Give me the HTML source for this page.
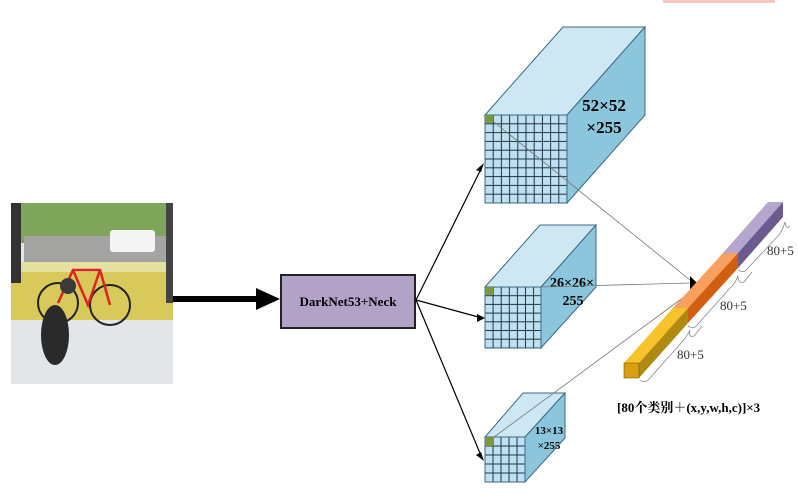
<!DOCTYPE html>
<html><head><meta charset="utf-8"><style>body{margin:0;background:#fff}svg{display:block}</style></head><body>
<svg width="798" height="495" xmlns="http://www.w3.org/2000/svg" font-family="Liberation Serif, Noto Serif CJK SC, serif">
<rect x="663" y="0" width="112" height="3" fill="#f4c7c0"/>
<!-- photo -->
<rect x="11" y="203" width="162" height="181" fill="#e3e6e8"/>
<rect x="11" y="203" width="162" height="40" fill="#7fa55a"/>
<rect x="24" y="236" width="146" height="30" fill="#a4a4a2"/>
<rect x="110" y="230" width="45" height="22" rx="3" fill="#f4f4f4"/>
<rect x="11" y="270" width="162" height="50" fill="#d8c95a"/>
<rect x="11" y="262" width="162" height="10" fill="#e4e0a0"/>
<rect x="11" y="203" width="10" height="80" fill="#333"/>
<rect x="166" y="203" width="7" height="100" fill="#444"/>
<circle cx="58" cy="303" r="20" fill="none" stroke="#222" stroke-width="2"/>
<circle cx="110" cy="305" r="20" fill="none" stroke="#222" stroke-width="2"/>
<path d="M58 303 L73 270 L100 270 L110 305 M73 270 L88 305 L100 270" stroke="#d22" stroke-width="2.5" fill="none"/>
<ellipse cx="55" cy="335" rx="14" ry="30" fill="#2a2a2a"/>
<circle cx="68" cy="286" r="8" fill="#3a3a3a"/>
<!-- main arrow -->
<line x1="173" y1="299" x2="258" y2="299" stroke="#000" stroke-width="6"/>
<polygon points="256,288 280,299 256,310" fill="#000"/>
<rect x="281" y="275" width="134" height="53" fill="#b3a2c8" stroke="#222" stroke-width="2"/>
<text x="348" y="306" text-anchor="middle" font-size="13" font-weight="bold">DarkNet53+Neck</text>
<g stroke="#000" stroke-width="1.2">
<line x1="416" y1="300" x2="482" y2="167"/><line x1="416" y1="300" x2="482" y2="318"/><line x1="416" y1="300" x2="482" y2="458"/>
</g>
<polygon points="484,163 476,170 481,172" fill="#000"/>
<polygon points="485,318 477,314 477,322" fill="#000"/>
<polygon points="484,461 476,455 481,452" fill="#000"/>
<defs>
<pattern id="g1" width="8.2" height="8.8" patternUnits="userSpaceOnUse" x="485" y="115"><rect width="8.2" height="8.8" fill="#bfe0ee" stroke="#1c3550" stroke-width="1"/></pattern>
<pattern id="g2" width="8.1" height="8.7" patternUnits="userSpaceOnUse" x="485" y="287"><rect width="8.1" height="8.7" fill="#bfe0ee" stroke="#1c3550" stroke-width="1"/></pattern>
<pattern id="g3" width="8" height="9" patternUnits="userSpaceOnUse" x="485" y="437"><rect width="8" height="9" fill="#bfe0ee" stroke="#1c3550" stroke-width="1"/></pattern>
</defs>
<g stroke="#3a6a85" stroke-width="1">
<polygon points="485,115 563,27 645,27 567,115" fill="#cde8f2"/>
<polygon points="567,115 645,27 645,115 567,203" fill="#8cc6dc"/>
<rect x="485" y="115" width="82" height="88" fill="url(#g1)"/>
<polygon points="485,287 540,225 596,225 541,287" fill="#cde8f2"/>
<polygon points="541,287 596,225 596,287 541,348" fill="#8cc6dc"/>
<rect x="485" y="287" width="56" height="61" fill="url(#g2)"/>
<polygon points="485,437 523,393 565,393 525,437" fill="#cde8f2"/>
<polygon points="525,437 565,393 565,438 525,482" fill="#8cc6dc"/>
<rect x="485" y="437" width="40" height="45" fill="url(#g3)"/>
</g>
<rect x="485" y="115" width="8" height="8" fill="#7a9a3a"/>
<rect x="485" y="287" width="8" height="8" fill="#7a9a3a"/>
<rect x="485" y="437" width="8" height="9" fill="#7a9a3a"/>
<text x="604" y="111" text-anchor="middle" font-size="17" font-weight="bold">52×52</text>
<text x="604" y="133" text-anchor="middle" font-size="17" font-weight="bold">×255</text>
<text x="572" y="287" text-anchor="middle" font-size="14" font-weight="bold">26×26×</text>
<text x="573" y="305" text-anchor="middle" font-size="14" font-weight="bold">255</text>
<text x="549" y="434" text-anchor="middle" font-size="11" font-weight="bold">13×13</text>
<text x="549" y="449" text-anchor="middle" font-size="11" font-weight="bold">×255</text>
<g stroke="#777" stroke-width="0.8">
<line x1="489" y1="118" x2="690" y2="280"/>
<line x1="541" y1="287" x2="690" y2="283"/>
<line x1="490" y1="440" x2="688" y2="294"/>
</g>
<polygon points="690,276 697,283 690,290" fill="#000"/>
<!-- bar -->
<polygon points="624,363 673,308 688,308 639,363" fill="#f7c22a"/>
<polygon points="639,363 688,308 688,323 639,378" fill="#b08a10"/>
<rect x="624" y="363" width="15" height="15" fill="#d8a010" stroke="#7a5a00" stroke-width="0.6"/>
<polygon points="673,308 723,253 738,253 688,308" fill="#f9a060"/>
<polygon points="688,308 738,253 738,268 688,323" fill="#d06010"/>
<polygon points="723,253 768,202 783,202 738,253" fill="#b4a6cc"/>
<polygon points="738,253 783,202 783,217 738,268" fill="#6a5a90"/>
<g fill="none" stroke="#888" stroke-width="0.8">
<path d="M640 380 Q645 384 650 378 L682 342 Q686 338 690 330 Q688 338 694 336 L702 326"/>
<path d="M688 326 Q694 330 698 324 L730 288 Q735 284 738 276 Q738 284 744 282 L752 272"/>
<path d="M738 270 Q744 274 748 268 L778 236 Q782 232 785 222 Q786 230 790 226"/>
</g>
<g font-size="13" fill="#333">
<text x="677" y="359">80+5</text>
<text x="720" y="310">80+5</text>
<text x="767" y="255">80+5</text>
</g>
<text x="617" y="412" font-size="13" font-weight="bold">[80个类别＋(x,y,w,h,c)]×3</text>
</svg>
</body></html>
